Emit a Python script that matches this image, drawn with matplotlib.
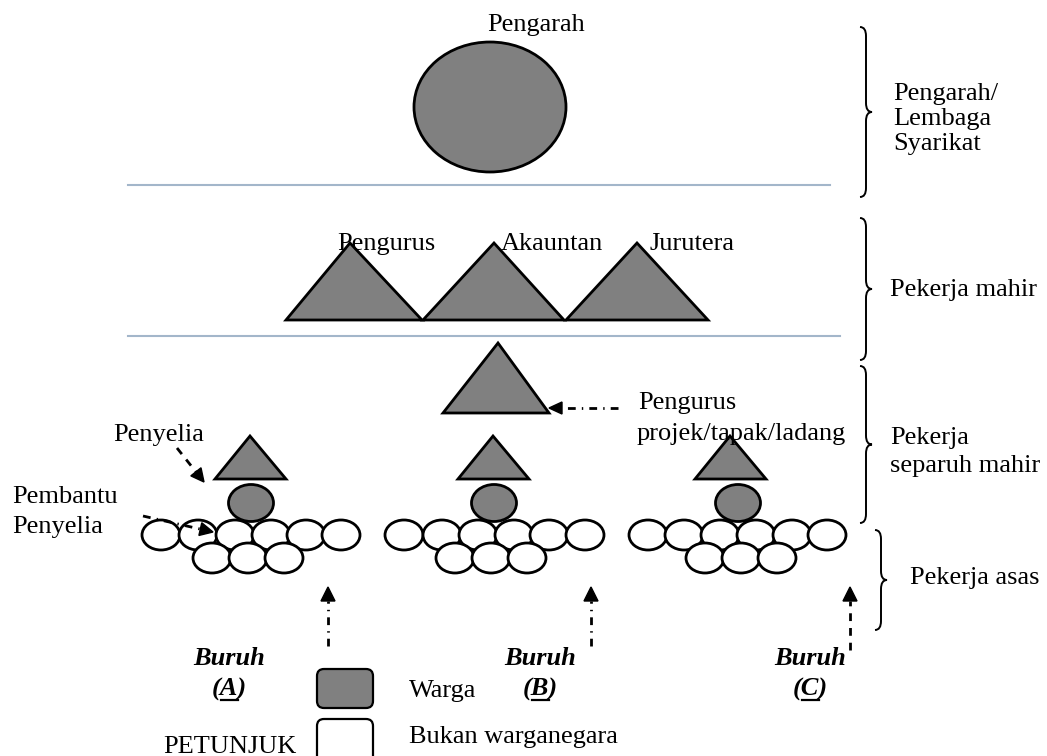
import numpy as np
import matplotlib
matplotlib.use('Agg')
import matplotlib.pyplot as plt
from matplotlib.patches import Ellipse, Polygon, FancyBboxPatch, PathPatch
from matplotlib.path import Path

GRAY = '#808080'
RULE = '#a3b6ca'
FONT = 'Liberation Serif'
FS = 19

# tier 1: director
director_label = 'Pengarah'
director_center = (490, 107)
director_size = (152, 130)

# tier 2: skilled workers
skilled_labels = ['Pengurus', 'Akauntan', 'Jurutera']
skilled_label_x = [337, 501, 650]
skilled_apex_x = [350, 494, 637]
skilled_base_x = [(286, 422), (423, 564), (566, 708)]

# site manager
site_label = ['Pengurus', 'projek/tapak/ladang']
site_apex = (498, 343)
site_base_x = (443, 549)

# work groups A, B, C
group_names = ['A', 'B', 'C']
sup_apex_x = [250, 493, 730]
asst_x = [251, 494, 738]
top_row_x = [[161, 198, 235, 271, 306, 341],
             [404, 442, 478, 514, 549, 585],
             [648, 684, 720, 756, 792, 827]]
bottom_row_x = [[212, 248, 284],
                [455, 491, 527],
                [705, 741, 777]]
buruh_x = [229, 540, 810]
up_arrow_x = [328, 591, 850]
up_arrow_style = ['dashdot', 'dashdot', 'dashed']

# right side braces and tier names
brace_specs = [(860, 27, 197), (860, 218, 360), (860, 366, 523), (875, 530, 630)]
tier_lines = [['Pengarah/', 'Lembaga', 'Syarikat'], ['Pekerja mahir'],
              ['Pekerja', 'separuh mahir'], ['Pekerja asas']]
tier_x = [893, 890, 890, 910]
tier_baselines = [[100, 125, 150], [296], [444, 472], [584]]

fig = plt.figure(figsize=(10.47, 7.56), dpi=100)
ax = fig.add_axes([0, 0, 1, 1])
ax.set_xlim(0, 1047)
ax.set_ylim(756, 0)
ax.axis('off')


def txt(x, y, s, **kw):
    ax.text(x, y, s, family=FONT, fontsize=FS, va='baseline', zorder=6, **kw)


def tri(apex_x, apex_y, x0, x1, base_y):
    ax.add_patch(Polygon([(x0, base_y), (apex_x, apex_y), (x1, base_y)], closed=True,
                         fc=GRAY, ec='black', lw=2, joinstyle='miter', zorder=3))


def ell(x, y, w, h, fc):
    ax.add_patch(Ellipse((x, y), w, h, fc=fc, ec='black', lw=2, zorder=3))


def arrow(x0, y0, x1, y1, style, hl=13, hw=13):
    dashes = (2.8, 2.5) if style == 'dashed' else (2.8, 2.2, 0.5, 2.2)
    dx, dy = x1 - x0, y1 - y0
    L = np.hypot(dx, dy)
    ux, uy = dx / L, dy / L
    bx, by = x1 - ux * hl, y1 - uy * hl
    ax.plot([x0, bx], [y0, by], color='black', lw=2, dashes=dashes,
            dash_capstyle='butt', zorder=4)
    px, py = -uy, ux
    ax.add_patch(Polygon([(x1, y1), (bx + px * hw / 2, by + py * hw / 2),
                          (bx - px * hw / 2, by - py * hw / 2)], closed=True,
                         color='black', zorder=4))


def brace(x, y0, y1, w=12, k=9):
    ym = (y0 + y1) / 2
    xm = x + w / 2
    verts = [(x, y0), (xm, y0), (xm, y0 + k), (xm, ym - k), (xm, ym), (x + w, ym),
             (xm, ym), (xm, ym + k), (xm, y1 - k), (xm, y1), (x, y1)]
    codes = [Path.MOVETO, Path.CURVE3, Path.CURVE3, Path.LINETO, Path.CURVE3, Path.CURVE3,
             Path.CURVE3, Path.CURVE3, Path.LINETO, Path.CURVE3, Path.CURVE3]
    ax.add_patch(PathPatch(Path(verts, codes), fc='none', ec='black', lw=1.4))


# separators
ax.plot([128, 830], [185, 185], color=RULE, lw=1.5)
ax.plot([128, 840], [336, 336], color=RULE, lw=1.5)

# director
ell(*director_center, *director_size, GRAY)
txt(487, 31, director_label)

# skilled
for lab, lx, apx, (b0, b1) in zip(skilled_labels, skilled_label_x, skilled_apex_x, skilled_base_x):
    tri(apx, 243, b0, b1, 320)
    txt(lx, 250, lab)

# site manager
tri(site_apex[0], site_apex[1], site_base_x[0], site_base_x[1], 413)
arrow(618, 408, 549, 408, 'dashdot', hl=13, hw=12)
txt(638, 409, site_label[0])
txt(637, 440, site_label[1])

# groups
for i in range(3):
    tri(sup_apex_x[i], 436, sup_apex_x[i] - 35, sup_apex_x[i] + 36, 479)
    for x in top_row_x[i]:
        ell(x, 535, 38, 30, 'white')
    for x in bottom_row_x[i]:
        ell(x, 558, 38, 30, 'white')
    ell(asst_x[i], 503, 45, 37, GRAY)
    arrow(up_arrow_x[i], 650 if up_arrow_style[i] == 'dashed' else 646,
          up_arrow_x[i], 587, up_arrow_style[i], hl=14, hw=14)
    txt(buruh_x[i], 665, 'Buruh', ha='center', fontweight='bold', fontstyle='italic')
    txt(buruh_x[i], 696, '(' + group_names[i] + ')', ha='center',
        fontweight='bold', fontstyle='italic')
    ax.plot([buruh_x[i] - 8, buruh_x[i] + 9], [700, 700], color='black', lw=1.6)

# supervisor labels
txt(113, 441, 'Penyelia')
arrow(177, 448, 204, 482, 'dashed', hl=13, hw=13)
txt(12, 503, 'Pembantu')
txt(12, 533, 'Penyelia')
arrow(143, 516, 213, 532, 'dashdot', hl=13, hw=13)

# braces and tier names
for (bx, y0, y1), lines, tx, bls in zip(brace_specs, tier_lines, tier_x, tier_baselines):
    brace(bx, y0, y1)
    for s, b in zip(lines, bls):
        txt(tx, b, s)

# legend
ax.add_patch(FancyBboxPatch((317, 669), 56, 39, boxstyle='round,pad=0,rounding_size=7',
                            fc=GRAY, ec='black', lw=1.6))
ax.add_patch(FancyBboxPatch((317, 719), 56, 45, boxstyle='round,pad=0,rounding_size=7',
                            fc='white', ec='black', lw=1.6))
txt(409, 697, 'Warga')
txt(409, 743, 'Bukan warganegara')
txt(163, 753, 'PETUNJUK')

fig.savefig('out.png', dpi=100)
